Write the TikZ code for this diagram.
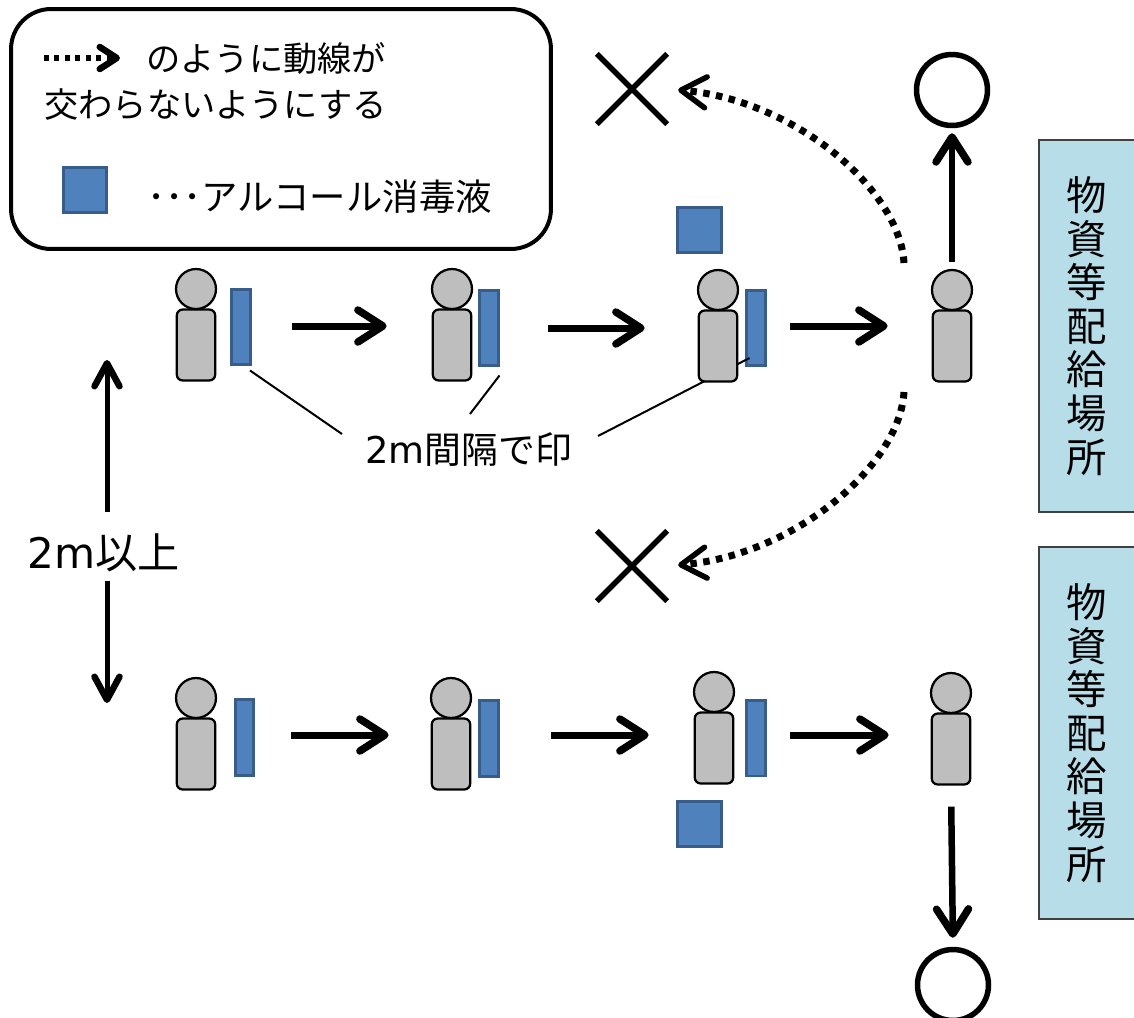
\documentclass[tikz,border=0pt]{standalone}
\usepackage{fontspec}
\usepackage{xcolor}
\usetikzlibrary{arrows.meta}
\usetikzlibrary{shapes.misc}
\setmainfont{Noto Sans CJK JP}
\newfontfamily\latinfont{DejaVu Sans}
\definecolor{bodygray}{HTML}{BEBEBE}
\definecolor{markblue}{HTML}{4F81BD}
\definecolor{markedge}{HTML}{385D8A}
\definecolor{stationblue}{HTML}{B7DDE8}
\tikzset{
	head/.style={
		circle,
		draw,
		fill=bodygray,
		line width=0.45mm,
		inner sep=0,
		minimum size=8mm
	},
	body/.style={
		rectangle,
		draw,
		fill=bodygray,
		rounded corners=1.2mm,
		line width=0.45mm,
		inner sep=0,
		minimum width=7.7mm,
		minimum height=14.2mm
	},
	mark bar/.style={
		rectangle,
		draw=markedge,
		fill=markblue,
		line width=0.6mm,
		inner sep=0,
		minimum width=3.8mm,
		minimum height=15.2mm
	},
	mark square/.style={
		rectangle,
		draw=markedge,
		fill=markblue,
		line width=0.6mm,
		inner sep=0,
		minimum width=8.8mm,
		minimum height=9mm
	},
	station/.style={
		rectangle,
		draw=black!75,
		fill=stationblue,
		line width=0.4mm,
		inner sep=0,
		minimum width=19.4mm,
		minimum height=74.4mm
	},
	stationtext/.style={
		inner sep=0,
		align=center,
		font=\fontsize{23}{24.8}\selectfont
	},
	flow/.style={
		line width=1.4mm,
		-{Straight Barb[length=5mm,width=6.4mm,round,line width=1.5mm]}
	},
	thinflow/.style={
		line width=1mm,
		-{Straight Barb[length=4.6mm,width=5mm,round,line width=1.3mm]}
	},
	dotflow/.style={
		line width=1.4mm,
		dash pattern=on 1.3mm off 1.3mm,
		-{Straight Barb[length=5mm,width=6.2mm,round,line width=1.1mm]}
	},
	keyflow/.style={
		line width=1.1mm,
		dash pattern=on 1mm off 1.1mm,
		-{Straight Barb[length=3.4mm,width=4.4mm,round,line width=1.3mm]}
	},
	leader/.style={line width=0.4mm},
	nogo/.style={cross out,draw,line width=1.1mm,inner sep=0,minimum size=13mm},
	goal/.style={circle,draw,line width=1.1mm,inner sep=0,minimum size=14.2mm},
	caption/.style={inner sep=0,font=\fontsize{19.5}{24}\selectfont}
}

\begin{document}
\begin{tikzpicture}[x=0.02cm,y=-0.02cm]
	\useasboundingbox (0,0) rectangle (1134,1018);

	% legend
	\node [rectangle,draw,line width=0.8mm,rounded corners=8mm,inner sep=0,minimum width=108mm,minimum height=48mm] (legend) at (281,129) {};
	\coordinate (keya) at (44,58);
	\coordinate (keyb) at (120,58);
	\draw[keyflow] (keya) -- (keyb);
	\node [caption,anchor=west] (keytext) at (146,58) {のように動線が};
	\node [caption,anchor=west] (keytextb) at (44,105) {交わらないようにする};
	\node [mark square] (keymark) at (85,190) {};
	\node [caption,anchor=west,font=\fontsize{20.7}{24}\selectfont] (keymarktext) at (147,197) {･･･アルコール消毒液};

	% marks on the floor
	\foreach \name/\x/\y in {1/241/327,2/488.5/328,3/755.5/328,5/244.5/737.5,6/488.5/738.5,7/755.5/738}
		\node [mark bar] (mark\name) at (\x,\y) {};
	\node [mark square] (square3) at (699.5,229.5) {};
	\node [mark square] (square7) at (699.5,823.5) {};

	% 2m label
	\node [caption,font=\fontsize{21}{24}\selectfont] (gap) at (469,450) {{\latinfont 2m}間隔で印};
	\draw[leader] ([shift={(-2,4)}]mark1.south east) -- ([shift={(-127,-16)}]gap.center);
	\draw[leader] ([yshift=-1.6mm]mark2.south east) -- ([shift={(1,-36)}]gap.center);
	\draw[leader] ([shift={(-6,30)}]mark3.center) -- ([shift={(129,-14)}]gap.center);

	% people
	\foreach \name/\x/\y in {1/196/289,2/452/289,3/718/290,4/952/290,5/196/698,6/451/698,7/714/692,8/951/693}{
		\node [body] (body\name) at (\x,\y+56) {};
		\node [head] (head\name) at (\x,\y) {};
	}

	% stations
	\node [station] (stationa) at (1087,326) {};
	\node [station] (stationb) at (1087,733) {};
	\node [stationtext] (labela) at (stationa.center) {物\\資\\等\\配\\給\\場\\所};
	\node [stationtext] (labelb) at (stationb.center) {物\\資\\等\\配\\給\\場\\所};

	\node [goal] (goala) at (952,90) {};
	\node [goal] (goalb) at (953,985) {};
	\node [nogo] (nogoa) at (632,89) {};
	\node [nogo] (nogob) at (632,566) {};

	% queue
	\foreach \a/\b/\d/\s/\e in {1/2/0.2/8/9,2/3/0/9.8/10.6,3/4/0.4/4.8/8.8,5/6/0.5/7.2/8.4,6/7/0.7/10.4/9,7/8/0.6/4.8/8.4}
		\draw[flow,shorten <=\s mm,shorten >=\e mm] ([yshift=\d mm]mark\a.east) -- ([yshift=\d mm]mark\a.east -| body\b.west);

	\draw[flow,line width=1.3mm,shorten <=1.4mm,shorten >=1mm] (head4.north) -- (goala.south);
	\draw[flow,line width=1.3mm,shorten <=4.2mm,shorten >=1.8mm] (body8.south) -- (goalb.north);

	% wrong ways
	\coordinate (wronga) at (904,263);
	\coordinate (wrongb) at (904,392);
	\draw[dotflow,shorten >=2.2mm] (wronga) .. controls (900,190) and (795,100) .. (nogoa.east);
	\draw[dotflow,shorten >=2.2mm] (wrongb) .. controls (900,465) and (795,555) .. (nogob.east);

	% 2m between the lines
	\coordinate (up) at (107,360);
	\coordinate (down) at (107,703);
	\node [caption,font=\fontsize{24}{24}\selectfont] (apart) at (104,553) {{\latinfont 2m}以上};
	\draw[thinflow,shorten <=4.4mm] (apart.north -| up) -- (up);
	\draw[thinflow,shorten <=1.6mm] (apart.south -| down) -- (down);
\end{tikzpicture}
\end{document}
